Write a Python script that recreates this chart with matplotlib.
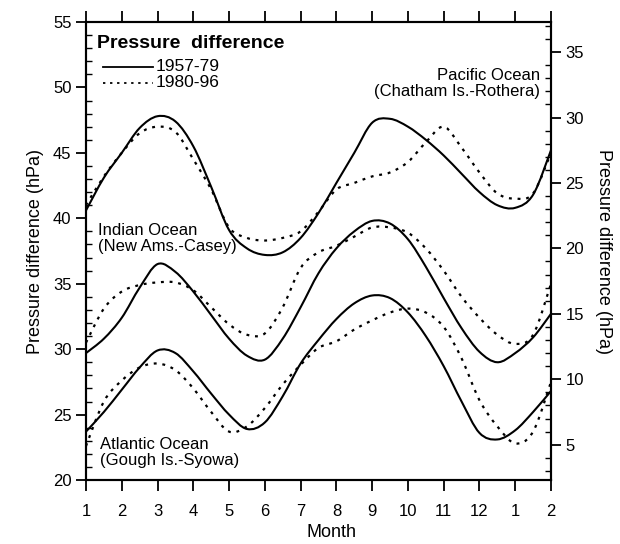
import matplotlib
matplotlib.use("Agg")
import matplotlib.pyplot as plt
from matplotlib.ticker import MultipleLocator
from matplotlib.path import Path
from matplotlib.patches import PathPatch

plt.rcParams['font.family'] = ['Liberation Sans', 'DejaVu Sans']

# month index: 0 = Jan ... 13 = Feb of next year, read every half month
months = [i * 0.5 for i in range(27)]
month_labels = ['1', '2', '3', '4', '5', '6', '7', '8', '9', '10', '11', '12', '1', '2']

# Pacific Ocean (Chatham Is.-Rothera), right axis (hPa)
pacific_5779 = [22.9, 25.4, 27.3, 29.2, 30.1, 29.7, 27.8, 24.7, 21.4, 20.0, 19.5, 19.7, 20.8, 22.7,
                25.0, 27.3, 29.6, 29.9, 29.3, 28.3, 27.1, 25.7, 24.3, 23.3, 23.1, 24.1, 27.5]
pacific_8096 = [23.3, 25.5, 27.3, 28.8, 29.3, 28.9, 26.8, 24.5, 21.6, 20.8, 20.6, 20.8, 21.3, 22.8,
                24.5, 25.0, 25.5, 25.8, 26.6, 28.1, 29.3, 27.7, 25.8, 24.2, 23.8, 24.2, 27.3]

# Indian Ocean (New Ams.-Casey), left axis (hPa)
indian_5779 = [29.7, 30.8, 32.4, 34.7, 36.5, 35.9, 34.4, 32.6, 30.8, 29.5, 29.2, 30.8, 33.2, 35.8,
               37.7, 39.0, 39.8, 39.6, 38.4, 36.3, 33.9, 31.6, 29.8, 29.0, 29.7, 30.9, 32.7]
indian_8096 = [30.5, 33.1, 34.4, 34.9, 35.1, 35.1, 34.5, 33.2, 31.9, 31.1, 31.2, 33.2, 36.2, 37.4,
               37.9, 38.6, 39.3, 39.3, 38.9, 37.7, 36.0, 34.0, 32.4, 31.1, 30.4, 31.1, 35.0]

# Atlantic Ocean (Gough Is.-Syowa), left axis (hPa)
atlantic_5779 = [23.7, 25.2, 26.9, 28.6, 29.9, 29.7, 28.3, 26.6, 25.0, 23.9, 24.4, 26.4, 28.9, 30.7,
                 32.3, 33.5, 34.1, 33.9, 32.8, 31.0, 28.7, 26.0, 23.6, 23.1, 23.8, 25.2, 26.8]
atlantic_8096 = [22.6, 26.0, 27.6, 28.6, 28.9, 28.4, 27.0, 25.2, 23.7, 24.1, 25.5, 27.3, 28.8, 30.1,
                 30.6, 31.5, 32.2, 32.8, 33.1, 32.8, 31.7, 29.3, 26.1, 24.1, 22.8, 23.7, 27.5]

right_offset = 17.7  # right scale = left scale - offset


def smooth_curve(a, x, y, **kw):
    # draw a smooth Catmull-Rom (Bezier) curve through the read points
    verts = [(x[0], y[0])]
    codes = [Path.MOVETO]
    n = len(x)
    for i in range(n - 1):
        x0, y0 = (x[i - 1], y[i - 1]) if i > 0 else (x[i], y[i])
        x3, y3 = (x[i + 2], y[i + 2]) if i + 2 < n else (x[i + 1], y[i + 1])
        c1 = (x[i] + (x[i + 1] - x0) / 6, y[i] + (y[i + 1] - y0) / 6)
        c2 = (x[i + 1] - (x3 - x[i]) / 6, y[i + 1] - (y3 - y[i]) / 6)
        verts += [c1, c2, (x[i + 1], y[i + 1])]
        codes += [Path.CURVE4] * 3
    a.add_patch(PathPatch(Path(verts, codes), fill=False, **kw))


fig = plt.figure(figsize=(6.2, 5.44), dpi=100)
ax = fig.add_axes([0.1387, 0.1176, 0.75, 0.842])
ax2 = ax.twinx()

solid = dict(edgecolor='black', linewidth=1.5, linestyle='-', capstyle='round')
dotted = dict(edgecolor='black', linewidth=1.6, linestyle=(0, (1.3, 2.6)))

smooth_curve(ax, months, indian_5779, **solid)
smooth_curve(ax, months, indian_8096, **dotted)
smooth_curve(ax, months, atlantic_5779, **solid)
smooth_curve(ax, months, atlantic_8096, **dotted)
smooth_curve(ax2, months, pacific_5779, **solid)
smooth_curve(ax2, months, pacific_8096, **dotted)

ax.set_xlim(0, 13)
ax.set_ylim(20, 55)
ax2.set_ylim(20 - right_offset, 55 - right_offset)

ax.set_xticks(range(14))
ax.set_xticklabels(month_labels)
ax.yaxis.set_major_locator(MultipleLocator(5))
ax.yaxis.set_minor_locator(MultipleLocator(1))
ax2.yaxis.set_major_locator(MultipleLocator(5))
ax2.yaxis.set_minor_locator(MultipleLocator(1))

ax.tick_params(axis='x', which='major', direction='out', length=8, width=1.3,
               top=True, labelsize=12, pad=9)
ax.tick_params(axis='y', which='major', direction='out', length=7, width=1.3, labelsize=12)
ax.tick_params(axis='y', which='minor', direction='in', length=4, width=1)
ax2.tick_params(axis='y', which='major', direction='out', length=7, width=1.3, labelsize=12)
ax2.tick_params(axis='y', which='minor', direction='in', length=4, width=1)

for a in (ax, ax2):
    for s in a.spines.values():
        s.set_linewidth(1.5)

ax.set_xlabel('Month', fontsize=13)
ax.xaxis.set_label_coords(0.527, -0.095)
ax.set_ylabel('Pressure difference (hPa)', fontsize=13, labelpad=6)
ax2.set_ylabel('Pressure difference (hPa)', fontsize=13, rotation=-90, labelpad=20)

ax.text(0.3, 53.35, 'Pressure  difference', fontsize=14, fontweight='bold', va='center')
ax.plot([0.47, 1.87], [51.56, 51.56], color='black', linewidth=1.3)
ax.text(1.95, 51.56, '1957-79', fontsize=12.5, va='center')
ax.plot([0.47, 1.87], [50.34, 50.34], color='black', linewidth=1.3, linestyle=(0, (1.3, 2.6)))
ax.text(1.95, 50.34, '1980-96', fontsize=12.5, va='center')

ax.text(12.69, 50.3, 'Pacific Ocean\n(Chatham Is.-Rothera)', fontsize=12,
        ha='right', va='center', linespacing=1.05)
ax.text(0.33, 38.46, 'Indian Ocean\n(New Ams.-Casey)', fontsize=12,
        ha='left', va='center', linespacing=1.05)
ax.text(0.39, 22.1, 'Atlantic Ocean\n(Gough Is.-Syowa)', fontsize=12,
        ha='left', va='center', linespacing=1.05)

fig.savefig('out.png', dpi=100)
